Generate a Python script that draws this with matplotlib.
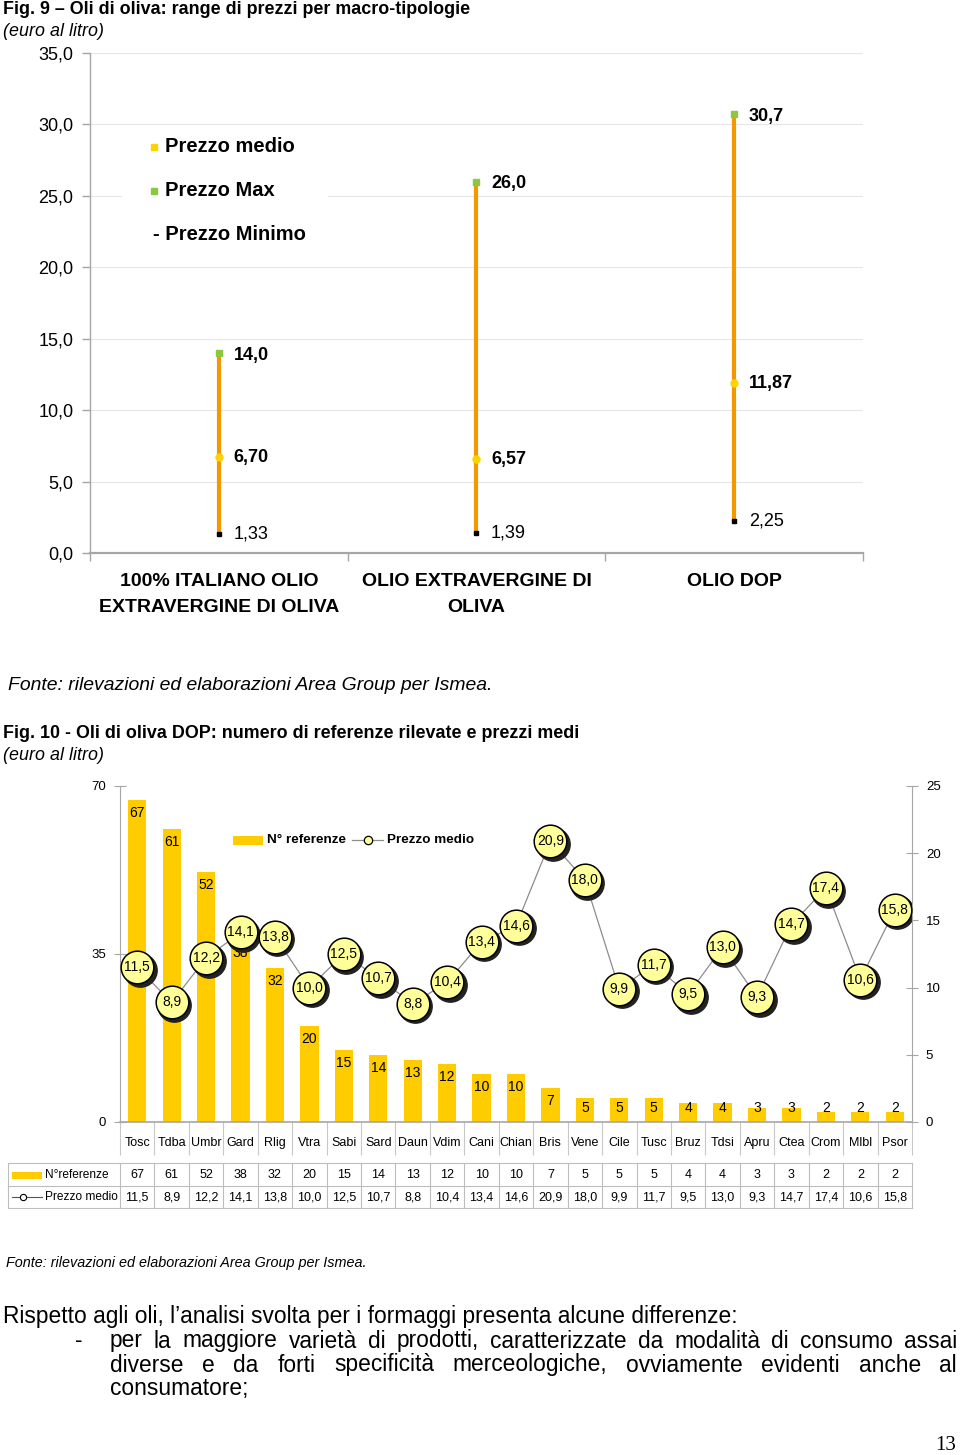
import matplotlib
matplotlib.use('Agg')
import matplotlib.pyplot as plt
from matplotlib.transforms import offset_copy, blended_transform_factory as btf
from matplotlib.patches import Rectangle
import numpy as np

plt.rcParams['font.family'] = ['Liberation Sans', 'DejaVu Sans']

# ---------------- Fig. 9 data ----------------
tipologie = ["100% ITALIANO OLIO\nEXTRAVERGINE DI OLIVA",
             "OLIO EXTRAVERGINE DI\nOLIVA",
             "OLIO DOP"]
prezzo_max = [14.0, 26.0, 30.7]
prezzo_medio = [6.70, 6.57, 11.87]
prezzo_min = [1.33, 1.39, 2.25]
lab_max = ["14,0", "26,0", "30,7"]
lab_medio = ["6,70", "6,57", "11,87"]
lab_min = ["1,33", "1,39", "2,25"]
y1_ticks = [0, 5, 10, 15, 20, 25, 30, 35]
legend9 = ["Prezzo medio", "Prezzo Max", "- Prezzo Minimo"]

# ---------------- Fig. 10 data ----------------
dop = ["Tosc", "Tdba", "Umbr", "Gard", "Rlig", "Vtra", "Sabi", "Sard", "Daun",
       "Vdim", "Cani", "Chian", "Bris", "Vene", "Cile", "Tusc", "Bruz", "Tdsi",
       "Apru", "Ctea", "Crom", "Mlbl", "Psor"]
n_ref = [67, 61, 52, 38, 32, 20, 15, 14, 13, 12, 10, 10, 7, 5, 5, 5, 4, 4, 3, 3, 2, 2, 2]
prezzo_dop = [11.5, 8.9, 12.2, 14.1, 13.8, 10.0, 12.5, 10.7, 8.8, 10.4, 13.4, 14.6,
              20.9, 18.0, 9.9, 11.7, 9.5, 13.0, 9.3, 14.7, 17.4, 10.6, 15.8]
y2_left_ticks = [0, 35, 70]
y2_right_ticks = [0, 5, 10, 15, 20, 25]

title9 = "Fig. 9 \u2013 Oli di oliva: range di prezzi per macro-tipologie"
title10 = "Fig. 10 - Oli di oliva DOP: numero di referenze rilevate e prezzi medi"
unit = "(euro al litro)"
fonte = "Fonte: rilevazioni ed elaborazioni Area Group per Ismea."
body1 = "Rispetto agli oli, l\u2019analisi svolta per i formaggi presenta alcune differenze:"
body2 = "per la maggiore variet\u00e0 di prodotti, caratterizzate da modalit\u00e0 di consumo assai"
body3 = "diverse e da forti specificit\u00e0 merceologiche, ovviamente evidenti anche al"
body4 = "consumatore;"

def fmt(v, d=1):
    return f"{v:.{d}f}".replace('.', ',')

W, H = 960, 1455
fig = plt.figure(figsize=(9.6, 14.55), dpi=100)
fig.patch.set_facecolor('white')

def fx(px): return px / W
def fy(py): return 1 - py / H

GREY = '#A6A6A6'
ORANGE = '#F39800'
YEL = '#FFD200'
GREEN = '#8DC63F'
BAR = '#FFCC00'

# ---------------- Top chart ----------------
ax1 = fig.add_axes([fx(90), fy(553), (863 - 90) / W, (553 - 53) / H])
ax1.set_xlim(0, 3)
ax1.set_ylim(0, 35)
ax1.set_yticks(y1_ticks)
ax1.set_yticklabels([fmt(v) for v in y1_ticks], fontsize=13)
ax1.yaxis.grid(True, color='#E6E6E6', lw=0.8)
ax1.set_axisbelow(True)
ax1.set_xticks([0, 1, 2, 3])
ax1.set_xticklabels([])
ax1.tick_params(axis='x', length=6, color=GREY, direction='out', width=1)
ax1.tick_params(axis='y', length=6, color=GREY, pad=6, width=1)
for s in ['top', 'right']:
    ax1.spines[s].set_visible(False)
ax1.spines['left'].set_color(GREY)
ax1.spines['left'].set_linewidth(1)
ax1.spines['bottom'].set_color(GREY)
ax1.spines['bottom'].set_linewidth(1.6)

xs = np.arange(len(tipologie)) + 0.5
ax1.vlines(xs, prezzo_min, prezzo_max, color=ORANGE, lw=3, zorder=3)
ax1.plot(xs, prezzo_max, 's', ms=4.5, color=GREEN, zorder=4, ls='none')
ax1.plot(xs, prezzo_medio, 'o', ms=5, color=YEL, zorder=4, ls='none')
ax1.plot(xs, prezzo_min, 's', ms=2.5, color='black', zorder=4, ls='none')
for x, v, l in zip(xs, prezzo_max, lab_max):
    ax1.annotate(l, (x, v), xytext=(10.5, -1.5), textcoords='offset points',
                 va='center', ha='left', fontsize=13, fontweight='bold')
for x, v, l in zip(xs, prezzo_medio, lab_medio):
    ax1.annotate(l, (x, v), xytext=(10.5, 0), textcoords='offset points',
                 va='center', ha='left', fontsize=13, fontweight='bold')
for x, v, l in zip(xs, prezzo_min, lab_min):
    ax1.annotate(l, (x, v), xytext=(10.5, 0), textcoords='offset points',
                 va='center', ha='left', fontsize=13)

# ---------------- Bottom chart ----------------
ax2 = fig.add_axes([fx(120), fy(1122), (912 - 120) / W, (1122 - 786) / H])
ax2.set_xlim(0, len(dop))
ax2.set_ylim(0, 70)
x2 = np.arange(len(dop)) + 0.5
ax2.bar(x2, n_ref, width=0.53, color=BAR, zorder=2)
for x, v in zip(x2, n_ref):
    ax2.text(x, max(v - 2.7, 3.0), str(v), ha='center', va='center', fontsize=10, zorder=3)
ax2.set_yticks(y2_left_ticks)
ax2.set_yticklabels([str(v) for v in y2_left_ticks], fontsize=9.5)
ax2.tick_params(axis='y', direction='inout', length=8, color=GREY, pad=6)
ax2.set_xticks(x2)
ax2.set_xticklabels(dop, fontsize=9)
ax2.tick_params(axis='x', which='major', length=0, pad=11)
ax2.set_xticks(np.arange(len(dop) + 1), minor=True)
ax2.tick_params(axis='x', which='minor', length=24, color='#C8C8C8', width=0.8, direction='out')
for s in ['top', 'right']:
    ax2.spines[s].set_visible(False)
ax2.spines['left'].set_color(GREY)
ax2.spines['bottom'].set_color(GREY)
ax2.spines['bottom'].set_linewidth(1.2)

ax2r = ax2.twinx()
ax2r.set_ylim(0, 25)
ax2r.set_yticks(y2_right_ticks)
ax2r.set_yticklabels([str(v) for v in y2_right_ticks], fontsize=9.5)
ax2r.tick_params(axis='y', direction='inout', length=8, color=GREY, pad=6)
for s in ['top', 'left', 'bottom']:
    ax2r.spines[s].set_visible(False)
ax2r.spines['right'].set_color(GREY)
ax2r.plot(x2, prezzo_dop, color='#8C8C8C', lw=0.9, zorder=1)
shadow = offset_copy(ax2r.transData, fig=fig, x=2.5, y=-2.5, units='dots')
ax2r.plot(x2, prezzo_dop, 'o', ms=24, mfc='#222222', mec='#222222', ls='none',
          transform=shadow, zorder=2)
ax2r.plot(x2, prezzo_dop, 'o', ms=23.5, mfc='#FFFF99', mec='black', mew=1.1,
          ls='none', zorder=3)
for x, v in zip(x2, prezzo_dop):
    ax2r.text(x, v, fmt(v), ha='center', va='center', fontsize=10, zorder=4)

# ---------------- Page overlay ----------------
page = fig.add_axes([0, 0, 1, 1], zorder=10)
page.set_xlim(0, W)
page.set_ylim(H, 0)
page.axis('off')
renderer = fig.canvas.get_renderer()

def fit(x, y, s, width, **kw):
    t = page.text(x, y, s, **kw)
    w = t.get_window_extent(renderer).width
    t.set_fontsize(t.get_fontsize() * width / w)
    return t

fit(3, 10, title9, 463, fontsize=12, fontweight='bold', va='center', ha='left')
fit(3, 31, unit, 100, fontsize=12, style='italic', va='center', ha='left')

# top legend
page.add_patch(Rectangle((122, 132), 206, 122, facecolor='white', edgecolor='none'))
page.plot([154], [147], 's', ms=4.3, color=YEL)
page.plot([154], [191], 's', ms=4.3, color=GREEN)
page.text(165, 147, legend9[0], fontsize=14.5, fontweight='bold', va='center', ha='left')
page.text(165, 191, legend9[1], fontsize=14.5, fontweight='bold', va='center', ha='left')
page.text(153, 234, legend9[2], fontsize=14.5, fontweight='bold', va='center', ha='left')

# top categories
t1 = btf(ax1.transData, page.transData)
for x, lab in zip(xs, tipologie):
    for k, line in enumerate(lab.split('\n')):
        page.text(x, 582 + 25 * k, line, transform=t1, fontsize=14, fontweight='bold',
                  ha='center', va='center')

fit(8, 685, fonte, 483, fontsize=12, style='italic', va='center', ha='left')
fit(3, 733, title10, 571, fontsize=12, fontweight='bold', va='center', ha='left')
fit(3, 755, unit, 100, fontsize=12, style='italic', va='center', ha='left')

# bottom legend
page.add_patch(Rectangle((233, 836), 30, 9, facecolor=BAR, edgecolor='none'))
page.text(267, 840, "N\u00b0 referenze", fontsize=9.7, fontweight='bold', va='center', ha='left')
page.plot([352, 383], [840, 840], color='#8C8C8C', lw=0.9)
page.plot([368], [840], 'o', ms=6, mfc='#FFFF99', mec='black', mew=0.9)
page.text(387, 840, "Prezzo medio", fontsize=9.7, fontweight='bold', va='center', ha='left')

# data table
t2 = btf(ax2.transData, page.transData)
TG = '#BDBDBD'
for yy in [1163, 1186, 1208]:
    page.plot([8, 912], [yy, yy], color=TG, lw=0.8)
page.plot([8, 8], [1163, 1208], color=TG, lw=0.8)
for b in range(len(dop) + 1):
    page.plot([b, b], [1163, 1208], color=TG, lw=0.8, transform=t2)
for x, v in zip(x2, n_ref):
    page.text(x, 1175, str(v), transform=t2, fontsize=9, ha='center', va='center')
for x, v in zip(x2, prezzo_dop):
    page.text(x, 1197, fmt(v), transform=t2, fontsize=9, ha='center', va='center')
page.add_patch(Rectangle((12, 1172), 30, 7, facecolor=BAR, edgecolor='none'))
page.text(45, 1175, "N\u00b0referenze", fontsize=8.6, ha='left', va='center')
page.plot([12, 42], [1197, 1197], color='#555555', lw=0.8)
page.plot([23], [1197], 'o', ms=4.5, mfc='white', mec='black', mew=0.8)
page.text(45, 1197, "Prezzo medio", fontsize=8.6, ha='left', va='center')

fit(6, 1263, fonte, 360, fontsize=9, style='italic', va='center', ha='left')

# body text
fam = ['Liberation Sans', 'DejaVu Sans']
tb = fit(3, 1317, body1, 732, fontsize=13, family=fam, va='center', ha='left')
bsize = tb.get_fontsize()

def justify(text, x0, x1, y, size):
    words = text.split(' ')
    ts = [page.text(0, y, w, fontsize=size, family=fam, va='center', ha='left')
          for w in words]
    widths = [t.get_window_extent(renderer).width for t in ts]
    gap = ((x1 - x0) - sum(widths)) / (len(ts) - 1)
    x = x0
    for t, w in zip(ts, widths):
        t.set_x(x)
        x += w + gap

page.text(75, 1341, "-", fontsize=bsize, family=fam, va='center', ha='left')
justify(body2, 110, 957, 1341, bsize)
justify(body3, 110, 957, 1365, bsize)
page.text(110, 1389, body4, fontsize=bsize, family=fam, va='center', ha='left')

page.text(946, 1445, "13", fontsize=15, family=['Liberation Serif', 'DejaVu Serif'],
          va='center', ha='center')

fig.savefig('out.png', dpi=100, facecolor='white')
